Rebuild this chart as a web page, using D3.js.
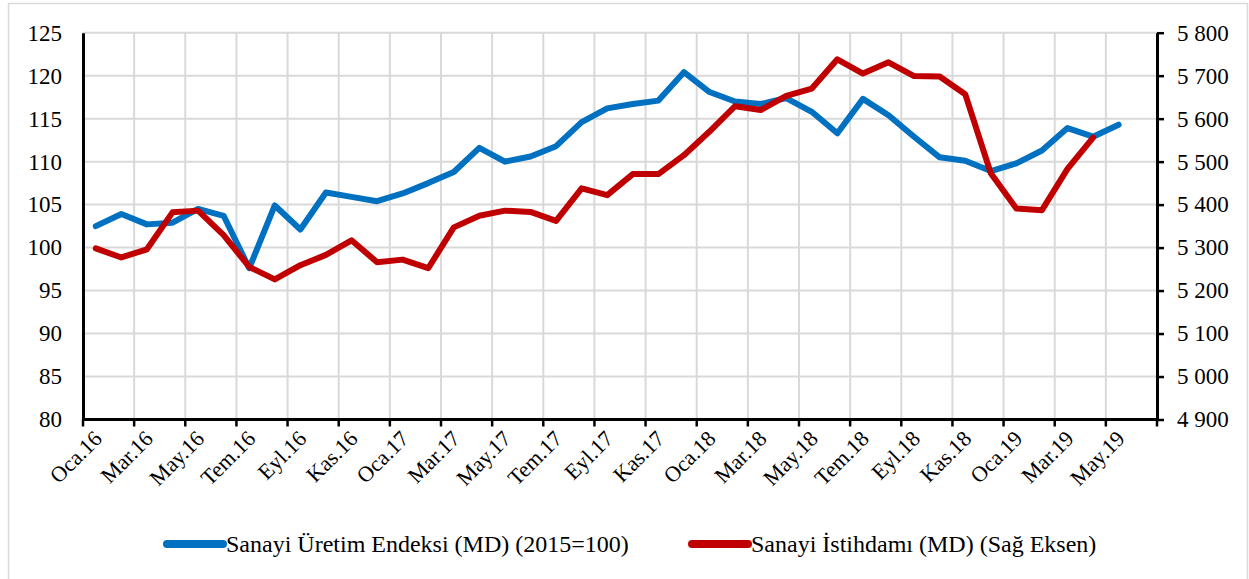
<!DOCTYPE html>
<html>
<head>
<meta charset="utf-8">
<script src="https://cdn.jsdelivr.net/npm/d3@7"></script>
<style>
  body { margin: 0; background: #fff; }
  svg { display: block; }
  svg text { font-family: "Liberation Serif", "Times New Roman", "DejaVu Serif", serif !important; fill: #000; }
</style>
</head>
<body>
<svg id="chart" width="1249" height="579"></svg>
<script>
// Kategoriler (aylar)
var aylar = ["Oca.16","Şub.16","Mar.16","Nis.16","May.16","Haz.16","Tem.16","Ağu.16","Eyl.16","Eki.16","Kas.16","Ara.16",
             "Oca.17","Şub.17","Mar.17","Nis.17","May.17","Haz.17","Tem.17","Ağu.17","Eyl.17","Eki.17","Kas.17","Ara.17",
             "Oca.18","Şub.18","Mar.18","Nis.18","May.18","Haz.18","Tem.18","Ağu.18","Eyl.18","Eki.18","Kas.18","Ara.18",
             "Oca.19","Şub.19","Mar.19","Nis.19","May.19","Haz.19"];

// Sanayi Üretim Endeksi (sol eksen)
var uretim = [102.5, 103.9, 102.7, 102.9, 104.5, 103.7, 97.6, 104.9, 102.1, 106.4, 105.9, 105.4,
              106.3, 107.5, 108.8, 111.6, 110.0, 110.6, 111.8, 114.6, 116.2, 116.7, 117.1, 120.4,
              118.1, 117.0, 116.7, 117.4, 115.8, 113.3, 117.3, 115.4, 112.9, 110.5, 110.1, 108.9,
              109.8, 111.3, 113.9, 112.9, 114.3];

// Sanayi İstihdamı (sağ eksen, bin kişi)
var istihdam = [5298, 5277, 5296, 5382, 5386, 5329, 5255, 5226, 5259, 5283, 5317, 5266,
                5272, 5252, 5347, 5374, 5386, 5383, 5362, 5438, 5422, 5471, 5471, 5515,
                5570, 5629, 5620, 5653, 5670, 5738, 5705, 5731, 5699, 5698, 5657, 5473,
                5391, 5387, 5483, 5556];

var solTikler = [80, 85, 90, 95, 100, 105, 110, 115, 120, 125];
var sagTikler = [4900, 5000, 5100, 5200, 5300, 5400, 5500, 5600, 5700, 5800];

var seriAdlari = ["Sanayi Üretim Endeksi (MD) (2015=100)", "Sanayi İstihdamı (MD) (Sağ Eksen)"];
var renkler = ["#0070C0", "#C00000"];

var svg = d3.select("#chart");
var sol = 83, sag = 1157, ust = 32.7, alt = 419.5;

// Dış çerçeve
svg.append("rect")
    .attr("x", 8.5).attr("y", 3.5)
    .attr("width", 1239).attr("height", 590)
    .attr("fill", "none").attr("stroke", "#d9d9d9").attr("stroke-width", 1.5);

var x = d3.scaleBand().domain(aylar).range([sol, sag]);
var y = d3.scaleLinear().domain([80, 125]).range([alt, ust]);
var y2 = d3.scaleLinear().domain([4900, 5800]).range([alt, ust]);

// Dikey ızgara (her iki ayda bir)
var sinirlar = aylar.filter((d, i) => i % 2 === 0).map(d => x(d)).concat([sag]);
svg.append("g").selectAll("line")
    .data(sinirlar.slice(1, -1))
    .enter().append("line")
    .attr("x1", d => d).attr("x2", d => d)
    .attr("y1", ust).attr("y2", alt)
    .attr("stroke", "#d9d9d9").attr("stroke-width", 2);

// Yatay ızgara
svg.append("g").selectAll("line")
    .data(solTikler.slice(1))
    .enter().append("line")
    .attr("x1", sol).attr("x2", sag)
    .attr("y1", d => y(d)).attr("y2", d => y(d))
    .attr("stroke", "#d9d9d9").attr("stroke-width", 2);

// Sol eksen
var solEksen = svg.append("g")
    .attr("transform", "translate(" + sol + ",0)")
    .call(d3.axisLeft(y).tickValues(solTikler).tickSize(0).tickPadding(21));
solEksen.select(".domain").attr("stroke", "#000").attr("stroke-width", 3);
solEksen.selectAll("text").style("font-size", "23px");

// Sağ eksen
var binlik = d3.formatLocale({ decimal: ",", thousands: " ", grouping: [3], currency: ["", ""] }).format(",");
var sagEksen = svg.append("g")
    .attr("transform", "translate(" + sag + ",0)")
    .call(d3.axisRight(y2).tickValues(sagTikler).tickSize(7).tickPadding(13).tickFormat(binlik).tickSizeOuter(0));
sagEksen.select(".domain").attr("stroke", "#000").attr("stroke-width", 3);
sagEksen.selectAll("line").attr("stroke", "#000").attr("stroke-width", 2.5);
sagEksen.selectAll("text").style("font-size", "23px");

// Alt eksen
var altEksen = svg.append("g").attr("transform", "translate(0," + alt + ")");
altEksen.append("line")
    .attr("x1", sol).attr("x2", sag)
    .attr("stroke", "#000").attr("stroke-width", 3);
altEksen.selectAll(".tik")
    .data(sinirlar)
    .enter().append("line")
    .attr("class", "tik")
    .attr("x1", d => d).attr("x2", d => d)
    .attr("y1", 0).attr("y2", 7)
    .attr("stroke", "#000").attr("stroke-width", 2.5);
altEksen.selectAll(".etiket")
    .data(aylar.filter((d, i) => i % 2 === 0))
    .enter().append("text")
    .attr("class", "etiket")
    .attr("transform", d => "translate(" + (x(d) + x.bandwidth() / 2 + 2) + ",15) rotate(-45)")
    .attr("text-anchor", "end")
    .attr("dy", "0.35em")
    .style("font-size", "22px")
    .text(d => d);

// Çizgiler
var cizgi1 = d3.line().x((d, i) => x(aylar[i]) + x.bandwidth() / 2).y(d => y(d));
var cizgi2 = d3.line().x((d, i) => x(aylar[i]) + x.bandwidth() / 2).y(d => y2(d));

svg.append("path")
    .datum(uretim)
    .attr("d", cizgi1)
    .attr("fill", "none").attr("stroke", renkler[0]).attr("stroke-width", 6)
    .attr("stroke-linejoin", "round").attr("stroke-linecap", "round");

svg.append("path")
    .datum(istihdam)
    .attr("d", cizgi2)
    .attr("fill", "none").attr("stroke", renkler[1]).attr("stroke-width", 6)
    .attr("stroke-linejoin", "round").attr("stroke-linecap", "round");

// Lejant
var lejantX = [167, 692];
var lejant = svg.append("g").selectAll("g")
    .data(seriAdlari)
    .enter().append("g")
    .attr("transform", (d, i) => "translate(" + lejantX[i] + ",544)");
lejant.append("line")
    .attr("x1", 0).attr("x2", 56)
    .attr("stroke", (d, i) => renkler[i]).attr("stroke-width", 8)
    .attr("stroke-linecap", "round");
lejant.append("text")
    .attr("x", 59).attr("y", 8)
    .style("font-size", "24px")
    .text(d => d);
</script>
</body>
</html>
